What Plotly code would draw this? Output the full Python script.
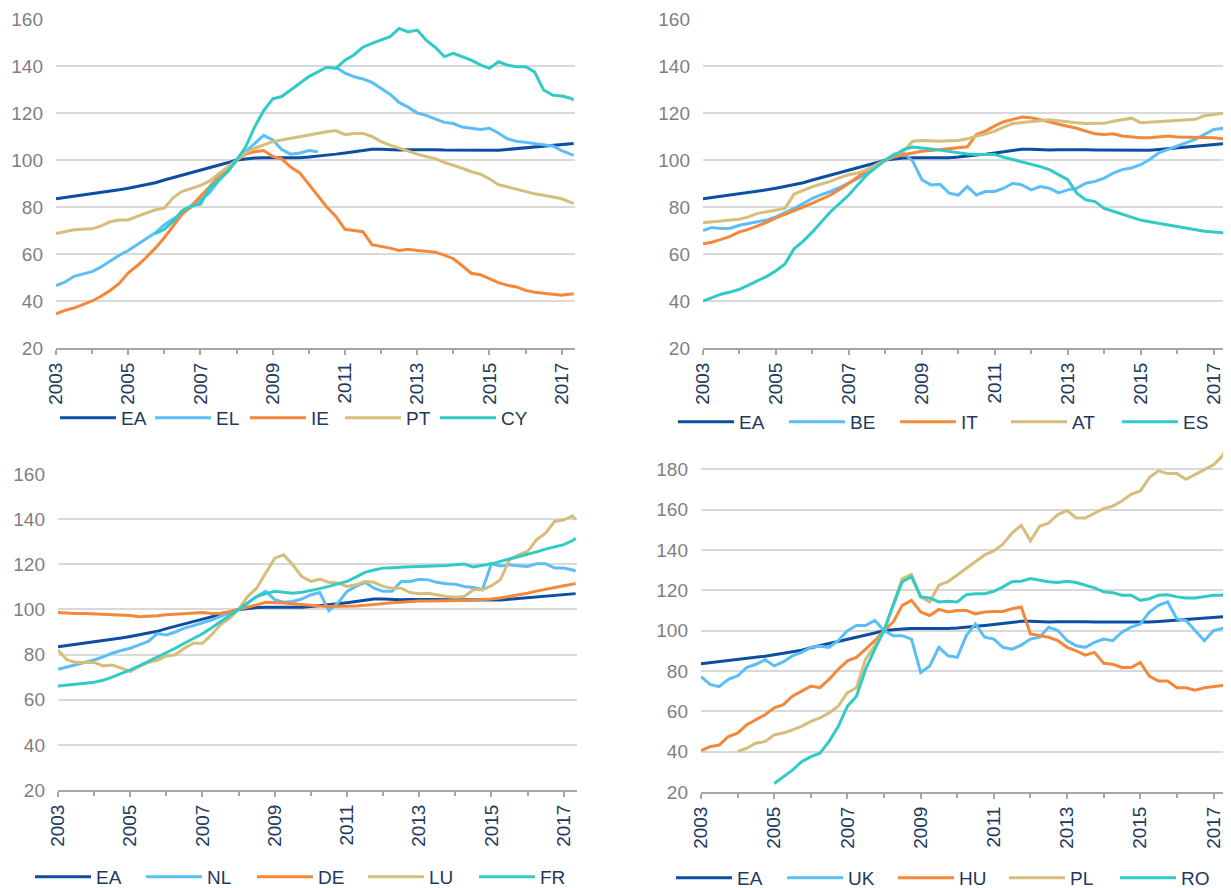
import pandas as pd
import plotly.graph_objects as go
from plotly.subplots import make_subplots

# quarterly observations 2003Q1..2017Q2 plus May 2017
dates = list(pd.date_range("2003-01-01", "2017-04-01", freq="QS").strftime("%Y-%m-%d")) + ["2017-05-01"]

ea = [83.5, 84, 84.5, 85, 85.5, 86, 86.5, 87.3, 88, 88.7, 89.3, 90.3,
      91.5, 92.5, 93.5, 94.5, 95.5, 96.5, 97.5, 98.8, 100, 100.5, 100.8, 101,
      101, 100.8, 100.8, 101, 101.3, 101.6, 102, 102.5, 103, 103.6, 104.2, 104.6,
      104.6, 104.4, 104.3, 104.4, 104.5, 104.4, 104.4, 104.3, 104.3, 104.1, 104, 104,
      104, 104.2, 104.5, 104.8, 105.2, 105.5, 105.8, 106.2, 106.5, 106.8, 107]

# panel 1
el = [46.5, 48, 50.5, 51.5, 52.5, 54.5, 57, 59.5, 61.5, 64, 66.5, 69,
      72.5, 75, 77.5, 80, 83, 86, 91, 95, 100, 103.5, 107, 110.5,
      108.5, 104.5, 102.5, 103, 104, 103.5, None, 139.5, 137, 135.5, 134.5, 133,
      130.5, 128, 124.5, 122.5, 120, 119, 117.5, 116, 115.5, 114, 113.5, 113,
      113.5, 111.5, 109, 108, 107.5, 107, 106.5, 106, 104, 102.5, 102]
ie = [34.5, 36, 37, 38.5, 40, 42, 44.5, 47.5, 52, 55, 58.5, 62.5,
      67, 72, 77, 80.5, 84.5, 88.5, 93, 96.5, 100, 102.5, 103.5, 104,
      101.5, 100.5, 97, 94.5, 89.5, 85, 80, 76, 70.5, 70, 69.5, 64,
      63.3, 62.5, 61.5, 62, 61.5, 61, 60.8, 59.5, 58, 55, 51.8, 51.2,
      49.5, 47.8, 46.7, 46, 44.5, 43.7, 43.3, 43, 42.5, 43, 43]
pt = [68.7, 69.5, 70.3, 70.5, 70.7, 72, 73.7, 74.5, 74.5, 76, 77.3, 78.8,
      79.5, 84, 86.7, 88, 89.2, 91, 94, 97, 100, 103, 105, 106.5,
      107.8, 108.5, 109.2, 110, 110.9, 111.5, 112, 112.5, 110.8, 111.3, 111.3, 110,
      107.8, 106.3, 105, 103.8, 102.5, 101.5, 100.6, 99, 97.8, 96.5, 95, 94,
      92, 89.5, 88.6, 87.5, 86.4, 85.6, 85, 84.3, 83.5, 82, 81.5]
cy = [None, None, None, None, None, None, None, None, None, None, None, 68.7,
      70.5, 74, 78.5, 80.5, 81.2, 88, 91.5, 95, 100, 105.5, 114, 121,
      126, 127, 129.8, 132.5, 135.5, 137.5, 139.5, 139, 142.5, 144.7, 148, 149.6,
      151, 152.5, 156, 154.5, 155.3, 151, 148, 144, 145.4, 144, 142.5, 140.5,
      139, 141.8, 140.4, 139.7, 139.7, 137.5, 129.8, 127.6, 127.2, 126.3, 125.5]

# panel 2
be = [70, 71.3, 70.8, 71, 72.2, 73, 73.7, 74.5, 75.8, 77.5, 79.4, 81.5,
      83.7, 85.3, 86.6, 88.3, 90.1, 92.2, 94.4, 97, 100, 102.6, 103, 99.5,
      91.6, 89.4, 89.7, 85.9, 85.1, 88.7, 85.1, 86.6, 86.6, 88, 90.1, 89.4,
      87.3, 88.7, 88, 86, 87.3, 88, 90.1, 90.9, 92.3, 94.4, 95.9, 96.6,
      98, 100.2, 103, 104.4, 105.9, 107.3, 108.8, 110.9, 113, 113.5, 112]
it = [64.4, 65, 66.2, 67.5, 69.4, 70.5, 72, 73.5, 75.4, 77, 78.7, 80,
      81.6, 83.3, 85.1, 87.5, 90.1, 92.8, 95.9, 98, 100, 101.2, 102.3, 103,
      103.7, 104, 104.4, 104.8, 105.2, 105.6, 110.9, 112.3, 114.5, 116.3, 117.3, 118.3,
      118, 117.3, 116.3, 115.2, 114.5, 113.5, 112.3, 111.2, 110.9, 111.2, 110.2, 109.8,
      109.5, 109.5, 109.8, 110.2, 109.8, 109.8, 109.5, 109.5, 109.5, 109, 108.8]
at = [73.3, 73.5, 74, 74.5, 74.8, 75.8, 77.3, 78, 78.7, 79.4, 85.5, 87,
      88.7, 89.8, 90.9, 92.5, 93.7, 94.5, 95.9, 97.8, 100, 102, 103.7, 108,
      108.3, 108, 108, 108.2, 108.3, 109, 110.2, 111, 112.3, 114, 115.5, 116,
      116.2, 116.7, 117.1, 116.8, 116.3, 115.8, 115.5, 115.6, 115.6, 116.5, 117.3, 117.8,
      115.9, 116.1, 116.3, 116.6, 116.9, 117.1, 117.3, 118.8, 119.2, 119.9, 120]
es = [40, 41.5, 42.9, 43.8, 45, 46.8, 48.6, 50.5, 52.9, 55.8, 62.2, 65.5,
      69.4, 73.7, 78, 81.5, 85.1, 89.5, 93.7, 97, 100, 102, 104.4, 105.5,
      105.2, 104.7, 104.2, 103.6, 103, 102.6, 102.3, 102.3, 102.3, 101.2, 100.2, 99.3,
      98.3, 97.2, 95.9, 93.7, 91.6, 85.9, 83, 82.3, 79.4, 78.2, 77, 75.7,
      74.4, 73.7, 73, 72.2, 71.5, 70.8, 70.1, 69.7, 69.4, 69, 69]

# panel 3
nl = [73.5, 74.5, 75.4, 76.5, 77.6, 79, 80.6, 81.8, 82.8, 84.3, 85.8, 89.3,
      88.7, 90, 91.7, 92.8, 93.9, 95.3, 96.9, 98.5, 100, 102.7, 105.7, 108,
      104.3, 103.2, 103.5, 104.6, 106.5, 107.5, 99.5, 102.8, 108, 110.2, 112, 109.4,
      108, 108, 112.4, 112.4, 113.4, 113.1, 112, 111.4, 111.2, 110.2, 109.7, 108.7,
      120.2, 119.3, 119.8, 119.3, 119, 120.2, 120.2, 118.3, 118.3, 117.5, 117]
de = [98.6, 98.3, 98.2, 98.2, 98, 97.8, 97.8, 97.6, 97.3, 96.8, 96.9, 97.2,
      97.6, 97.9, 98.1, 98.4, 98.6, 98.2, 98.3, 99, 100, 100.8, 102, 103.2,
      103.1, 102.8, 102.5, 102.1, 101.8, 101.5, 101.3, 101.3, 101.3, 101.5, 101.8, 102.3,
      102.8, 103, 103.2, 103.5, 103.7, 103.7, 103.7, 103.8, 103.8, 104, 104.1, 104.3,
      104.6, 105.1, 105.7, 106.5, 107.2, 108.1, 109, 109.8, 110.5, 111.2, 111.5]
lu = [82, 77.7, 76.5, 76.5, 76.5, 75, 75.4, 74, 72.5, 74.7, 76.5, 77.4,
      79.4, 79.9, 82.8, 85, 85, 88.7, 93.2, 96.1, 100, 105.7, 109.4, 116.1,
      122.7, 124.2, 119.8, 114.6, 112.4, 113.4, 112, 111.7, 110.2, 110.9, 112.4, 112,
      110.2, 109.4, 109.4, 107.5, 106.9, 107.2, 106.5, 105.7, 105.4, 105.7, 108.7, 108.7,
      110.5, 113.1, 122, 124.2, 125.7, 130.9, 133.8, 139, 139.7, 141.5, 139.7]
fr = [66.1, 66.6, 67, 67.3, 67.7, 68.6, 70, 71.5, 73.2, 75, 76.9, 78.8,
      80.6, 82.8, 85, 87.1, 89.2, 91.8, 94.7, 97.3, 100, 103, 105.7, 107,
      108, 107.6, 107.2, 107.6, 108.3, 109.2, 110.2, 111.2, 112.4, 114.3, 116.4, 117.5,
      118.3, 118.5, 118.8, 118.9, 119, 119.1, 119.3, 119.5, 119.8, 120.1, 118.8, 119.4,
      120.2, 121.3, 122.3, 123.2, 124.2, 125.5, 126.7, 127.6, 128.7, 130.5, 131.6]

# panel 4
uk = [77.2, 73.3, 72.2, 75.8, 77.5, 81.7, 83.3, 85.5, 82.5, 84.5, 87.5, 89.2,
      91.7, 92.2, 91.7, 95, 100, 102.5, 102.5, 105, 100, 97.5, 97.5, 95.8,
      79.2, 82.5, 91.7, 87.5, 86.7, 97.5, 103.3, 96.7, 95.8, 91.7, 90.8, 92.8,
      95.8, 96.7, 101.7, 100, 95, 92.5, 91.7, 94.2, 95.8, 95, 99.2, 101.7,
      103.3, 109.2, 112.5, 114.2, 105.8, 105, 100, 95, 100, 101, 101.5]
hu = [40.5, 42.5, 43.3, 47.5, 49.2, 53.3, 55.8, 58.3, 61.7, 63.3, 67.5, 70,
      72.5, 71.7, 75.8, 80.8, 85, 86.7, 90.8, 95, 100, 104.2, 112.5, 115,
      109.2, 107.5, 110.5, 109.2, 110, 110, 108.3, 109.2, 109.5, 109.5, 110.8, 111.7,
      98.3, 97.5, 96.7, 95, 91.7, 90, 87.8, 89.2, 83.8, 83.3, 81.7, 81.7,
      84.2, 77.5, 75, 75, 71.7, 71.7, 70.5, 71.7, 72.2, 72.8, 72.5]
pl = [None, None, None, None, 40, 41.7, 44.2, 45, 48.3, 49.2, 50.8, 52.5,
      55, 56.7, 59.2, 62.5, 69.2, 71.7, 85.8, 92.5, 100, 112.5, 125.8, 127.8,
      116.7, 114.2, 122.5, 124.2, 127.5, 130.8, 134.2, 137.5, 139.5, 142.8, 148.3, 152.2,
      144.5, 151.7, 153.3, 157.5, 159.5, 155.8, 155.8, 158.3, 160.5, 161.7, 164.2, 167.5,
      169.2, 175.8, 179.2, 177.8, 177.8, 175, 177.5, 180, 182.2, 186.7, 190]
ro = [None, None, None, None, None, None, None, None, 24.2, 27.5, 30.8, 35,
      37.5, 39.2, 45, 52.5, 62.5, 67.5, 80.8, 90.8, 100, 112.5, 124.2, 126.7,
      116.7, 116.2, 114.2, 114.5, 114.2, 117.8, 118.3, 118.3, 119.5, 121.7, 124.2, 124.5,
      125.8, 125, 124.2, 123.8, 124.5, 123.8, 122.5, 121.2, 119.2, 118.8, 117.5, 117.5,
      115, 115.8, 117.5, 117.8, 116.7, 116.2, 116.2, 116.7, 117.5, 117.5, 119]

panels = [
    (["EA", "EL", "IE", "PT", "CY"], [ea, el, ie, pt, cy]),
    (["EA", "BE", "IT", "AT", "ES"], [ea, be, it, at, es]),
    (["EA", "NL", "DE", "LU", "FR"], [ea, nl, de, lu, fr]),
    (["EA", "UK", "HU", "PL", "RO"], [ea, uk, hu, pl, ro]),
]
colors = ["#0B4EA2", "#5BBEF8", "#F5873A", "#D6BD79", "#31CBC6"]

# the page body has an 8px margin, so the figure is 8px smaller and
# every page position below is shifted by OFF
OFF = 8
W, H = 1231 - OFF, 888 - OFF
FONT = "Liberation Sans, Arial, sans-serif"
NAVY = "#22395E"


def fx(px):
    return (px - OFF) / W


def fy(py):
    return 1 - (py - OFF) / H


fig = make_subplots(rows=2, cols=2)

for p, (names, series) in enumerate(panels):
    row, col = p // 2 + 1, p % 2 + 1
    leg = "legend" if p == 0 else f"legend{p + 1}"
    for name, vals, c in zip(names, series, colors):
        fig.add_trace(go.Scatter(x=dates, y=vals, name=name, mode="lines",
                                 line=dict(color=c, width=3), legend=leg,
                                 connectgaps=False),
                      row=row, col=col)

# page-pixel geometry of each plot area: (left, right, top, bottom)
boxes = [(56, 575, 19, 348), (703, 1227, 19, 348),
         (58, 577, 474, 790), (701, 1227, 449, 792)]
yranges = [[20, 160], [20, 160], [20, 160], [20, 190]]

for i, ((l, r, t, b), yr) in enumerate(zip(boxes, yranges)):
    sx = "" if i == 0 else str(i + 1)
    fig.layout["xaxis" + sx].update(
        domain=[fx(l), fx(r)], type="date",
        range=["2003-01-01", "2017-05-15"],
        dtick="M24", tick0="2003-01-01", tickformat="%Y", tickangle=-90,
        ticks="outside", ticklen=5, tickwidth=1.5, tickcolor="#A6A6A6",
        minor=dict(dtick="M12", tick0="2003-01-01", ticks="outside",
                   ticklen=4, tickwidth=1.5, tickcolor="#A6A6A6"),
        showline=True, linecolor="#A6A6A6", linewidth=2, showgrid=False,
        zeroline=False, tickfont=dict(family=FONT, size=19, color=NAVY),
    )
    fig.layout["yaxis" + sx].update(
        domain=[fy(b), fy(t)], range=yr,
        tickvals=list(range(20, 181, 20)) if i == 3 else list(range(20, 161, 20)),
        showgrid=True, gridcolor="#D9D9D9", gridwidth=1.5, zeroline=False,
        showline=False, ticks="", ticklabelstandoff=12,
        tickfont=dict(family=FONT, size=19, color="#7F7F7F"),
    )

# legend rows: (first line start px, centre y px, item spacing px)
legend_pos = [(62, 419, 95), (680, 423, 111), (37, 878, 111), (678, 879, 111)]
ITEMW = 56
for i, (lx, ly, step) in enumerate(legend_pos):
    key = "legend" if i == 0 else f"legend{i + 1}"
    fig.layout[key] = dict(
        orientation="h", x=fx(lx - 7), xanchor="left", y=fy(ly - 1), yanchor="middle",
        itemwidth=ITEMW, entrywidth=step - ITEMW - 15, entrywidthmode="pixels",
        font=dict(family=FONT, size=19, color=NAVY),
        bgcolor="rgba(0,0,0,0)", traceorder="normal",
    )

fig.update_layout(
    width=W, height=H, margin=dict(l=0, r=0, t=0, b=0, autoexpand=False),
    plot_bgcolor="white", paper_bgcolor="white",
    font=dict(family=FONT, size=19, color=NAVY),
    showlegend=True,
)

fig.write_html("out.html")
